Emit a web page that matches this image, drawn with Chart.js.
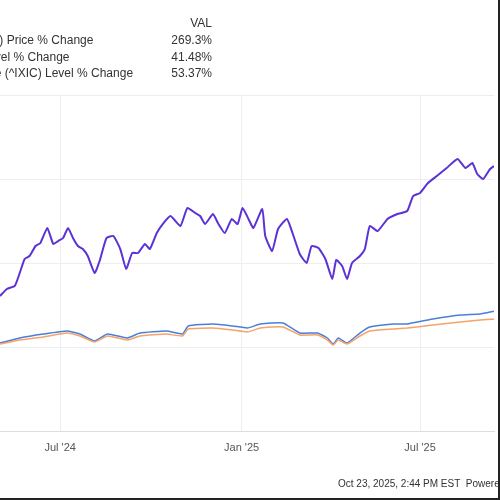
<!DOCTYPE html>
<html>
<head>
<meta charset="utf-8">
<script src="https://cdn.jsdelivr.net/npm/chart.js@4.4.1/dist/chart.umd.min.js"></script>
<style>
  html, body { margin: 0; padding: 0; background: #fff; }
  body { width: 500px; height: 500px; overflow: hidden; position: relative; font-family: "Liberation Sans", Arial, sans-serif; }
  #wrap { position: absolute; left: 0; top: 0; width: 500px; height: 500px; }
  .leg { position: absolute; font-size: 12px; color: #333; white-space: nowrap; line-height: 14px; }
  .val { text-align: right; width: 60px; }
  #foot { position: absolute; left: 338px; top: 478px; font-size: 10px; color: #333; white-space: nowrap; }
  #edge { position: absolute; left: 0; top: 0; width: 498px; height: 498px; border-right: 2px solid #222; border-bottom: 2px solid #222; pointer-events: none; }
</style>
</head>
<body>
<div id="wrap"><canvas id="chart" width="500" height="500"></canvas></div>
<div id="legend"></div>
<div id="foot">Oct 23, 2025, 2:44 PM EST&nbsp; Powered by YCHARTS</div>
<div id="edge"></div>
<script>
// days counted from Jul 1, 2024
const nvdaDays = [-61, -54, -46, -41, -36, -31, -25, -20, -13, -7, -2, 3, 8, 13, 18, 23, 28, 35, 40, 47, 54, 61, 67, 73, 79, 86, 91, 98, 104, 112, 122, 129, 137, 142, 147, 155, 160, 167, 174, 180, 185, 191, 196, 205, 208, 215, 221, 230, 236, 243, 250, 255, 262, 269, 276, 280, 286, 291, 296, 304, 309, 314, 322, 332, 342, 352, 358, 365, 373, 382, 392, 403, 411, 418, 423, 429, 436, 440];
const nvdaPct = [76, 86.3, 90.8, 110.1, 131, 135.4, 150.3, 154.8, 177.1, 153.3, 157.7, 162.2, 177.1, 162.2, 150.3, 145.8, 135.4, 110.1, 128, 162.2, 165.2, 145.8, 116.1, 139.9, 139.9, 153.3, 145.8, 169.6, 183, 194.9, 180.1, 206.8, 199.4, 194.9, 183, 197.9, 184.5, 169.6, 190.5, 183, 206.8, 190.5, 177.1, 205.4, 165.2, 142.9, 175.6, 190.5, 168.2, 138.4, 125, 150.3, 147.3, 131, 101.2, 129.5, 120.5, 101.2, 125, 135.4, 145.8, 180.1, 172.6, 190.5, 197.9, 202.4, 224.7, 229.2, 244, 254.5, 266.4, 279.8, 266.4, 273.8, 257.4, 250, 264.9, 269.3];

const indexDays = [-61, -41, -17, 7, 20, 35, 48, 68, 81, 108, 124, 130, 155, 175, 190, 203, 226, 243, 261, 271, 277, 282, 291, 304, 314, 338, 352, 362, 378, 406, 426, 440];
const spxPct = [4.5, 10.4, 14.9, 20.8, 16.4, 7.4, 16.4, 10.4, 16.4, 19.3, 16.4, 26.8, 28.3, 25.3, 22.3, 28.3, 29.8, 17.9, 17.9, 10.4, 3, 10.4, 4.5, 16.4, 23.8, 26.8, 28.3, 29.8, 32.7, 37.2, 40.2, 41.48];
const ixicPct = [6, 13.4, 19.3, 23.8, 19.3, 8.9, 19.3, 13.4, 20.8, 23.8, 19.3, 31.3, 34.2, 31.3, 28.3, 34.2, 35.7, 20.8, 20.8, 13.4, 4.5, 13.4, 6, 20.8, 29.8, 34.2, 34.2, 37.2, 41.7, 47.6, 49.1, 53.37];

const seriesNames = ["NVIDIA Corp (NVDA) Price % Change", "S&P 500 (^SPX) Level % Change", "NASDAQ Composite (^IXIC) Level % Change"];
const seriesVals = ["269.3%", "41.48%", "53.37%"];
const tickDays = [0, 184, 365];
const tickLabels = ["Jul '24", "Jan '25", "Jul '25"];

// legend table (cropped at the left like the source)
const legend = document.getElementById("legend");
let h = '<div class="leg val" style="left:152px;top:16px">VAL</div>';
seriesNames.forEach((n, i) => {
  const top = 33 + i * 16.5;
  h += '<div class="leg name" style="top:' + top + 'px">' + n + '</div>';
  h += '<div class="leg val" style="left:152px;top:' + top + 'px">' + seriesVals[i] + '</div>';
});
legend.innerHTML = h;
const names = legend.querySelectorAll(".name");
const leftX = 133 - names[2].offsetWidth; // longest row ends near x=133
names.forEach((el) => { el.style.left = leftX + "px"; });

const pts = (xs, ys) => xs.map((x, i) => ({ x: x, y: ys[i] }));

const ctx = document.getElementById("chart").getContext("2d");
new Chart(ctx, {
  type: "line",
  data: {
    datasets: [
      { label: seriesNames[1], data: pts(indexDays, spxPct), borderColor: "#f5a36b", borderWidth: 1.5 },
      { label: seriesNames[2], data: pts(indexDays, ixicPct), borderColor: "#4a7fd6", borderWidth: 1.5 },
      { label: seriesNames[0], data: pts(nvdaDays, nvdaPct), borderColor: "#5b32d6", borderWidth: 2 },
    ],
  },
  options: {
    responsive: false,
    animation: false,
    layout: { padding: { top: 95, right: 6, bottom: 49, left: 0 } },
    elements: { point: { radius: 0 }, line: { tension: 0.15, fill: false } },
    plugins: { legend: { display: false }, tooltip: { enabled: false } },
    scales: {
      x: {
        type: "linear",
        min: -61,
        max: 440,
        afterBuildTicks: (scale) => { scale.ticks = tickDays.map((v) => ({ value: v })); },
        afterFit: (scale) => { scale.height = 20; },
        ticks: {
          padding: 10,
          color: "#555",
          font: { size: 11, family: "Liberation Sans" },
          callback: (v) => tickLabels[tickDays.indexOf(v)],
        },
        grid: { color: "#eeeeee", drawTicks: false },
        border: { color: "#dddddd" },
      },
      y: {
        min: -125,
        max: 375,
        ticks: { stepSize: 125, display: false },
        afterFit: (scale) => { scale.width = 0; },
        grid: { color: "#eeeeee", drawTicks: false },
        border: { display: false },
      },
    },
  },
});
</script>
</body>
</html>
